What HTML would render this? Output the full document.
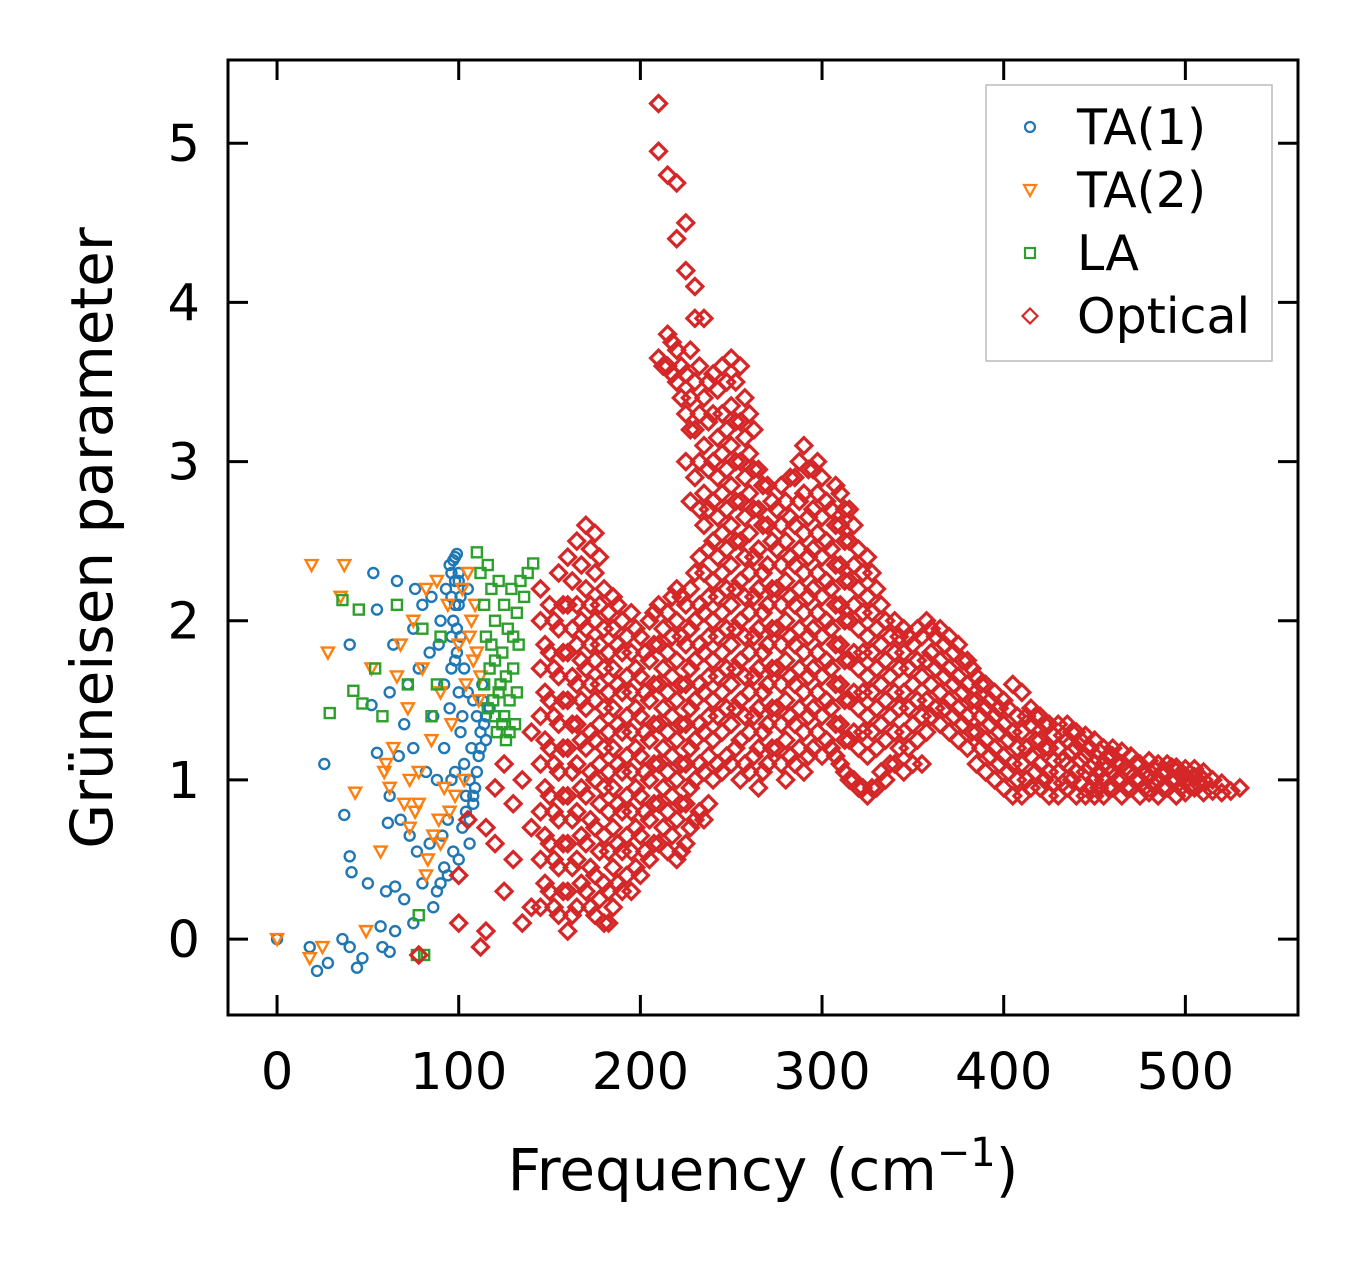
<!DOCTYPE html>
<html><head><meta charset="utf-8"><style>
html,body{margin:0;padding:0;background:#fff;}
svg text{font-family:"DejaVu Sans","Liberation Sans",sans-serif;}
</style></head><body>
<svg id="chart" width="1357" height="1264" xmlns="http://www.w3.org/2000/svg">
<rect width="1357" height="1264" fill="#fff"/>
<g id="marks"></g>
<g id="axes"></g>
</svg>
<script>
const xTicks=[0,100,200,300,400,500];
const yTicks=[0,1,2,3,4,5];
const ta1Freq=[0,18,22,28,26,37,40,41,36,40,44,47,50,53,55,40,52,55,57,58,60,62,61,62,64,66,65,67,68,70,70,72,73,75,75,76,77,78,80,80,82,84,84,85,86,88,88,89,90,91,92,92,93,94,95,96,97,98,98,99,100,100,101,102,103,104,105,105,106,107,108,109,110,111,112,113,115,117,98,97,99,101,95,96,100,102,103,108,106,96,94,92,90,86,75,65,62,99,100,101,97,98,100,96,110,112,114,108,106,104,113,115,96,98];
const ta1Gamma=[0,-0.05,-0.2,-0.15,1.1,0.78,0.52,0.42,0,-0.05,-0.18,-0.12,0.35,2.3,2.07,1.85,1.47,1.17,0.08,-0.05,0.3,0.9,0.73,1.55,1.85,2.25,0.33,1.15,0.75,1.35,0.25,1.6,0.65,1.2,1.95,2.2,0.55,1.7,0.35,2.1,1.05,0.6,1.8,2.15,1.4,1.0,0.3,1.85,2.0,0.65,1.2,1.6,2.2,0.4,1.45,2.3,0.55,1.05,2.4,1.8,2.1,0.5,1.3,0.7,1.7,0.9,1.55,2.2,1.0,1.2,1.5,0.95,1.4,1.15,1.3,1.5,1.25,1.45,2.25,2.0,1.95,1.9,2.35,1.7,1.55,1.4,1.1,0.85,0.75,1.0,0.75,0.45,0.35,0.2,0.1,0.05,-0.08,2.42,2.3,2.15,2.38,2.1,2.25,2.15,1.05,1.2,1.35,0.9,0.6,0.8,1.6,1.4,1.9,1.75];
const ta2Freq=[0,19,37,35,28,18,25,43,49,52,57,59,60,62,64,66,68,70,72,73,75,76,78,80,82,83,85,86,88,89,90,92,94,95,96,98,100,102,103,104,105,106,107,108,109,110,111,112,78,82,90,73];
const ta2Gamma=[0,2.35,2.35,2.15,1.8,-0.12,-0.05,0.92,0.05,1.7,0.55,1.05,1.1,0.95,1.2,1.65,1.85,0.85,1.45,0.7,2.0,0.8,1.05,1.7,2.2,0.5,1.25,0.65,2.25,0.75,1.55,0.95,2.1,0.8,1.35,0.9,1.85,2.2,1.0,1.6,2.3,1.9,2.0,1.75,2.1,1.8,1.5,1.65,0.85,0.4,0.6,1.0];
const laFreq=[29,36,42,45,47,54,58,66,72,77,81,78,80,85,88,90,110,112,114,115,116,117,118,119,120,121,122,123,124,125,126,127,128,129,130,131,132,133,134,136,138,141,125,120,128,130,118,122,114,116,124,126,120,132];
const laGamma=[1.42,2.13,1.56,2.07,1.48,1.7,1.4,2.1,1.6,-0.1,-0.1,0.15,1.95,1.4,1.6,1.9,2.43,2.3,2.1,1.9,2.35,1.7,2.2,1.5,2.0,1.3,2.25,1.6,1.8,2.1,1.25,1.95,1.5,2.2,1.7,1.35,2.05,1.85,2.25,2.15,2.3,2.36,1.4,1.75,1.3,1.9,1.85,1.55,1.6,1.45,1.35,1.65,1.4,1.55];
const optCols=[
[78,[-0.1]],[100,[0.1,0.4]],[112,[-0.05]],[105,[0.75]],[115,[0.7,0.05]],[120,[0.6,0.95]],[125,[0.3,1.1]],[130,[0.5,0.85]],[135,[0.1,1.0]],[140,[0.7,0.2,1.3]],
[145,[0.2,0.5,0.8,1.1,1.4,1.7,2.0,2.2]],[150,[0.3,0.6,0.9,1.2,1.5,1.8,2.1]],[155,[0.15,0.45,0.75,1.05,1.35,1.65,1.95,2.3]],
[160,[0.05,0.3,0.6,0.9,1.2,1.5,1.8,2.1,2.4]],[165,[0.2,0.5,0.8,1.1,1.35,1.6,1.85,2.1,2.5]],[170,[0.3,0.6,0.9,1.2,1.45,1.7,1.95,2.2,2.6]],
[175,[0.15,0.4,0.7,1.0,1.25,1.5,1.75,2.0,2.3,2.55]],[180,[0.1,0.35,0.65,0.95,1.2,1.45,1.7,1.95,2.2]],[185,[0.2,0.45,0.7,0.95,1.2,1.45,1.7,1.95,2.15]],
[190,[0.3,0.55,0.8,1.05,1.3,1.55,1.8,2.0]],[195,[0.3,0.55,0.8,1.05,1.3,1.55,1.8,2.05]],[200,[0.4,0.65,0.9,1.15,1.4,1.65,1.9]],
[205,[0.5,0.75,1.0,1.25,1.5,1.75,2.0]],[210,[0.6,0.85,1.1,1.35,1.6,1.85,2.1,3.65,5.25,4.95]],[215,[0.55,0.8,1.05,1.3,1.55,1.8,2.05,3.6,3.8,4.8]],
[220,[0.5,0.75,1.0,1.25,1.5,1.75,2.0,2.2,3.5,3.7,4.4,4.75]],[225,[0.6,0.85,1.1,1.35,1.6,1.85,2.1,3.0,3.3,3.55,4.2,4.5]],
[230,[0.75,1.0,1.25,1.5,1.75,2.0,2.3,2.9,3.2,3.5,3.9,4.1]],[235,[0.75,1.05,1.3,1.55,1.8,2.05,2.3,2.6,2.8,3.1,3.4,3.9]],
[240,[1.0,1.25,1.5,1.75,2.0,2.25,2.5,2.75,3.0,3.3,3.55]],[245,[1.05,1.3,1.55,1.8,2.05,2.3,2.55,2.8,3.05,3.3,3.6]],
[250,[1.1,1.35,1.6,1.85,2.1,2.35,2.6,2.85,3.1,3.35,3.65]],[255,[1.0,1.25,1.5,1.75,2.0,2.25,2.5,2.75,3.0,3.25,3.6]],
[260,[1.05,1.3,1.55,1.8,2.05,2.3,2.55,2.8,3.05,3.3]],[265,[0.95,1.2,1.45,1.7,1.95,2.2,2.45,2.7,2.95]],
[270,[1.1,1.35,1.6,1.85,2.1,2.35,2.6,2.85]],[275,[1.2,1.45,1.7,1.95,2.2,2.45,2.7]],[280,[1.0,1.25,1.5,1.75,2.0,2.25,2.5,2.75]],
[285,[1.1,1.35,1.6,1.85,2.1,2.35,2.6,2.9]],[290,[1.05,1.3,1.55,1.8,2.05,2.3,2.55,2.8,3.1]],[295,[1.2,1.45,1.7,1.95,2.2,2.45,2.7,2.95]],
[300,[1.15,1.4,1.65,1.9,2.15,2.4,2.65,2.9]],[305,[1.2,1.45,1.7,1.95,2.2,2.45,2.7]],[310,[1.1,1.35,1.6,1.85,2.1,2.35,2.6,2.8]],
[315,[1.0,1.25,1.5,1.75,2.0,2.25,2.5,2.7]],[320,[0.95,1.2,1.45,1.7,1.95,2.2,2.45]],[325,[0.9,1.15,1.4,1.65,1.9,2.15,2.4]],
[330,[0.95,1.2,1.45,1.7,1.95,2.2]],[335,[1.0,1.25,1.5,1.75,2.0]],[340,[1.1,1.3,1.55,1.8,2.0]],[345,[1.05,1.3,1.55,1.8,1.95]],
[350,[1.1,1.35,1.6,1.85]],[355,[1.1,1.4,1.65,1.9]],[360,[1.4,1.6,1.8,1.95]],[365,[1.35,1.55,1.75,1.95]],[370,[1.3,1.5,1.7,1.9]],
[375,[1.25,1.45,1.65,1.85]],[380,[1.2,1.4,1.6,1.75]],[385,[1.1,1.3,1.5,1.65]],[390,[1.05,1.25,1.45,1.6]],[395,[1.0,1.2,1.4,1.55]],
[400,[0.95,1.15,1.35,1.5]],[405,[0.9,1.1,1.3,1.6]],[410,[0.9,1.1,1.3,1.55]],[415,[0.95,1.15,1.35,1.45]],[420,[0.95,1.1,1.25,1.4]],
[425,[0.9,1.05,1.2,1.35]],[430,[0.9,1.05,1.2,1.35]],[435,[0.95,1.1,1.25,1.35]],[440,[0.9,1.05,1.2,1.3]],[445,[0.9,1.05,1.15,1.28]],
[450,[0.9,1.0,1.1,1.25]],[455,[0.9,1.0,1.1,1.2]],[460,[0.95,1.05,1.15,1.2]],[465,[0.9,1.0,1.1,1.18]],[470,[0.95,1.05,1.15]],
[475,[0.9,1.0,1.1]],[480,[0.92,1.02,1.12]],[485,[0.9,1.0,1.1]],[490,[0.95,1.05,1.1]],[495,[0.9,1.0,1.08]],[500,[0.92,1.0,1.07]],
[505,[0.95,1.02,1.07]],[510,[0.92,1.0,1.05]],[515,[0.93,1.0]],[520,[0.92,0.98]],[525,[0.93]],[530,[0.95]]
];
const optCols2=[
[147.5,[0.35,0.65,0.95,1.25,1.55,1.85]],[152.5,[0.2,0.5,0.8,1.1,1.4,1.7,2.0]],[157.5,[0.3,0.6,0.9,1.2,1.5,1.8,2.1]],
[162.5,[0.15,0.45,0.75,1.05,1.35,1.65,1.95,2.25]],[167.5,[0.35,0.65,0.95,1.25,1.5,1.75,2.0,2.35]],
[172.5,[0.2,0.45,0.75,1.05,1.3,1.6,1.85,2.1,2.45]],[177.5,[0.25,0.55,0.85,1.1,1.35,1.6,1.85,2.1,2.4]],
[182.5,[0.1,0.3,0.55,0.8,1.05,1.3,1.55,1.8,2.05]],[187.5,[0.35,0.6,0.85,1.1,1.35,1.6,1.85,2.1]],
[192.5,[0.4,0.65,0.9,1.15,1.4,1.65,1.9]],[197.5,[0.45,0.7,0.95,1.2,1.45,1.7,1.95]],[202.5,[0.55,0.8,1.05,1.3,1.55,1.8]],
[207.5,[0.6,0.85,1.1,1.35,1.6,1.85,2.05]],[212.5,[0.7,0.95,1.2,1.45,1.7,1.95,3.6]],[217.5,[0.65,0.9,1.15,1.4,1.65,1.9,2.15,3.55,3.75]],
[222.5,[0.55,0.85,1.1,1.35,1.6,1.9,2.15,3.4,3.6]],[227.5,[0.7,0.95,1.2,1.45,1.7,1.95,2.2,2.75,3.2,3.4,3.7]],
[232.5,[0.8,1.1,1.35,1.6,1.85,2.1,2.4,2.7,3.0,3.3,3.6]],[237.5,[0.85,1.15,1.4,1.65,1.9,2.15,2.45,2.7,2.95,3.25,3.5]],
[242.5,[1.1,1.4,1.65,1.9,2.15,2.4,2.65,2.9,3.15,3.45]],[247.5,[1.15,1.45,1.7,1.95,2.2,2.45,2.7,2.95,3.2,3.5]],
[252.5,[1.2,1.45,1.7,1.95,2.2,2.5,2.75,3.0,3.25,3.5]],[257.5,[1.1,1.4,1.65,1.9,2.15,2.4,2.65,2.9,3.15,3.4]],
[262.5,[1.15,1.4,1.65,1.9,2.15,2.4,2.7,2.95,3.2]],[267.5,[1.05,1.3,1.55,1.8,2.05,2.3,2.6,2.85]],
[272.5,[1.2,1.45,1.7,1.95,2.2,2.5,2.75]],[277.5,[1.1,1.35,1.6,1.85,2.1,2.35,2.6,2.85]],[282.5,[1.15,1.4,1.65,1.9,2.15,2.4,2.65,2.9]],
[287.5,[1.2,1.45,1.7,1.95,2.2,2.45,2.75,3.0]],[292.5,[1.15,1.4,1.65,1.9,2.15,2.4,2.65,2.95]],[297.5,[1.3,1.55,1.8,2.05,2.3,2.55,2.8,3.0]],
[302.5,[1.25,1.5,1.75,2.0,2.25,2.5,2.75]],[307.5,[1.15,1.35,1.6,1.85,2.1,2.35,2.6,2.85]],[312.5,[1.05,1.25,1.5,1.75,2.0,2.25,2.5,2.7]],
[317.5,[1.0,1.3,1.55,1.8,2.1,2.35,2.6]],[322.5,[0.95,1.3,1.55,1.8,2.05,2.3]],[327.5,[0.95,1.3,1.55,1.8,2.05,2.3]],
[332.5,[1.05,1.35,1.6,1.85,2.1]],[337.5,[1.1,1.4,1.65,1.9]],[342.5,[1.2,1.45,1.7,1.9]],[347.5,[1.2,1.45,1.7,1.9]],
[352.5,[1.25,1.5,1.75,1.95]],[357.5,[1.3,1.5,1.75,2.0]],[362.5,[1.45,1.7,1.9]],[367.5,[1.45,1.65,1.85]],[372.5,[1.4,1.6,1.8]],
[377.5,[1.35,1.55,1.75]],[382.5,[1.3,1.5,1.7]],[387.5,[1.2,1.4,1.6]],[392.5,[1.15,1.35,1.5]],[397.5,[1.1,1.3,1.45]],
[402.5,[1.05,1.25,1.45]],[407.5,[1.0,1.2,1.4]],[412.5,[1.0,1.2,1.4]],[417.5,[1.05,1.25,1.4]],[422.5,[1.0,1.2,1.35]],
[427.5,[0.98,1.12,1.28]],[432.5,[0.98,1.12,1.28]],[437.5,[1.0,1.18,1.3]],[442.5,[0.98,1.12,1.25]],[447.5,[0.95,1.08,1.2]],
[452.5,[0.95,1.05,1.18]],[457.5,[0.95,1.08,1.15]],[462.5,[1.0,1.1]],[467.5,[0.95,1.08]],[472.5,[1.0,1.1]],[477.5,[0.95,1.05]],
[482.5,[0.97,1.07]],[487.5,[0.95,1.05]],[492.5,[1.0,1.08]],[497.5,[0.95,1.03]],[502.5,[0.96,1.04]],[507.5,[0.97,1.03]]
];
const legendLabels=["TA(1)","TA(2)","LA","Optical"];

const L=228,R=1298,T=60,B=1015;
const xMin=-27,xMax=562,yMin=-0.477,yMax=5.523;
function sx(v){return L+(v-xMin)/(xMax-xMin)*(R-L);}
function sy(v){return B-(v-yMin)/(yMax-yMin)*(B-T);}
const NS="http://www.w3.org/2000/svg";
const marks=document.getElementById('marks');
const axes=document.getElementById('axes');
function mk(tag,attrs,parent){const e=document.createElementNS(NS,tag);for(const k in attrs)e.setAttribute(k,attrs[k]);parent.appendChild(e);return e;}
function marker(type,cx,cy,color,parent,sw,d){
  sw=sw||2.2; d=d||7.5;
  let e;
  if(type==='circle') e=mk('circle',{cx:cx,cy:cy,r:5,fill:'none',stroke:color,'stroke-width':sw},parent);
  else if(type==='tri') e=mk('polygon',{points:`${cx-6},${cy-5} ${cx+6},${cy-5} ${cx},${cy+6}`,fill:'none',stroke:color,'stroke-width':sw},parent);
  else if(type==='square') e=mk('rect',{x:cx-5,y:cy-5,width:10,height:10,fill:'none',stroke:color,'stroke-width':sw},parent);
  else e=mk('polygon',{points:`${cx},${cy-d} ${cx+d},${cy} ${cx},${cy+d} ${cx-d},${cy}`,fill:'none',stroke:color,'stroke-width':sw},parent);
  return e;
}
const series=[
 {name:'ta1',type:'circle',color:'#1f77b4',xs:ta1Freq,ys:ta1Gamma,sw:2.4},
 {name:'ta2',type:'tri',color:'#ff7f0e',xs:ta2Freq,ys:ta2Gamma,sw:2.4},
 {name:'la',type:'square',color:'#2ca02c',xs:laFreq,ys:laGamma,sw:2.4}
];
const optFreq=[],optGamma=[];
optCols.concat(optCols2).forEach(c=>c[1].forEach(g=>{optFreq.push(c[0]);optGamma.push(g);}));
series.push({name:'optical',type:'diamond',color:'#d62728',xs:optFreq,ys:optGamma,sw:3.2,d:8});
series.forEach(s=>{
  const g=mk('g',{},marks);
  
  
  s.xs.forEach((x,i)=>{
    const e=marker(s.type,sx(x),sy(s.ys[i]),s.color,g,s.sw,s.d);
    
    
  });
});
const fr=mk('rect',{x:L,y:T,width:R-L,height:B-T,fill:'none',stroke:'#000','stroke-width':3},axes);


xTicks.forEach(v=>{
  const x=sx(v);
  mk('line',{x1:x,y1:B,x2:x,y2:B-20,stroke:'#000','stroke-width':3},axes);
  mk('line',{x1:x,y1:T,x2:x,y2:T+20,stroke:'#000','stroke-width':3},axes);
  const t=mk('text',{x:x,y:B+74,'text-anchor':'middle','font-size':51},axes);
  t.textContent=v;
  
  
});
yTicks.forEach(v=>{
  const y=sy(v);
  mk('line',{x1:L,y1:y,x2:L+20,y2:y,stroke:'#000','stroke-width':3},axes);
  mk('line',{x1:R,y1:y,x2:R-20,y2:y,stroke:'#000','stroke-width':3},axes);
  const t=mk('text',{x:L-28,y:y+18,'text-anchor':'end','font-size':51},axes);
  t.textContent=v;
  
  
});
const xl=mk('text',{x:763,y:1190,'text-anchor':'middle','font-size':58},axes);
xl.innerHTML='Frequency (cm<tspan dy="-24" font-size="40">−1</tspan><tspan dy="24">)</tspan>';


const yl=mk('text',{x:0,y:0,'text-anchor':'middle','font-size':58,transform:'translate(112,538) rotate(-90)'},axes);
yl.textContent='Grüneisen parameter';


const lg=mk('g',{},axes);


mk('rect',{x:986,y:85,width:286,height:276,fill:'#fff','fill-opacity':0.8,stroke:'#bbb','stroke-width':1.5},lg);
const types=['circle','tri','square','diamond'],cols=['#1f77b4','#ff7f0e','#2ca02c','#d62728'];
legendLabels.forEach((lab,i)=>{
  const y=127+i*63;
  const e=marker(types[i],1030,y,cols[i],lg,2.2,7.5);
  
  
  const t=mk('text',{x:1077,y:y+17,'font-size':49},lg);
  t.textContent=lab;
  
  
});
</script>
</body></html>
